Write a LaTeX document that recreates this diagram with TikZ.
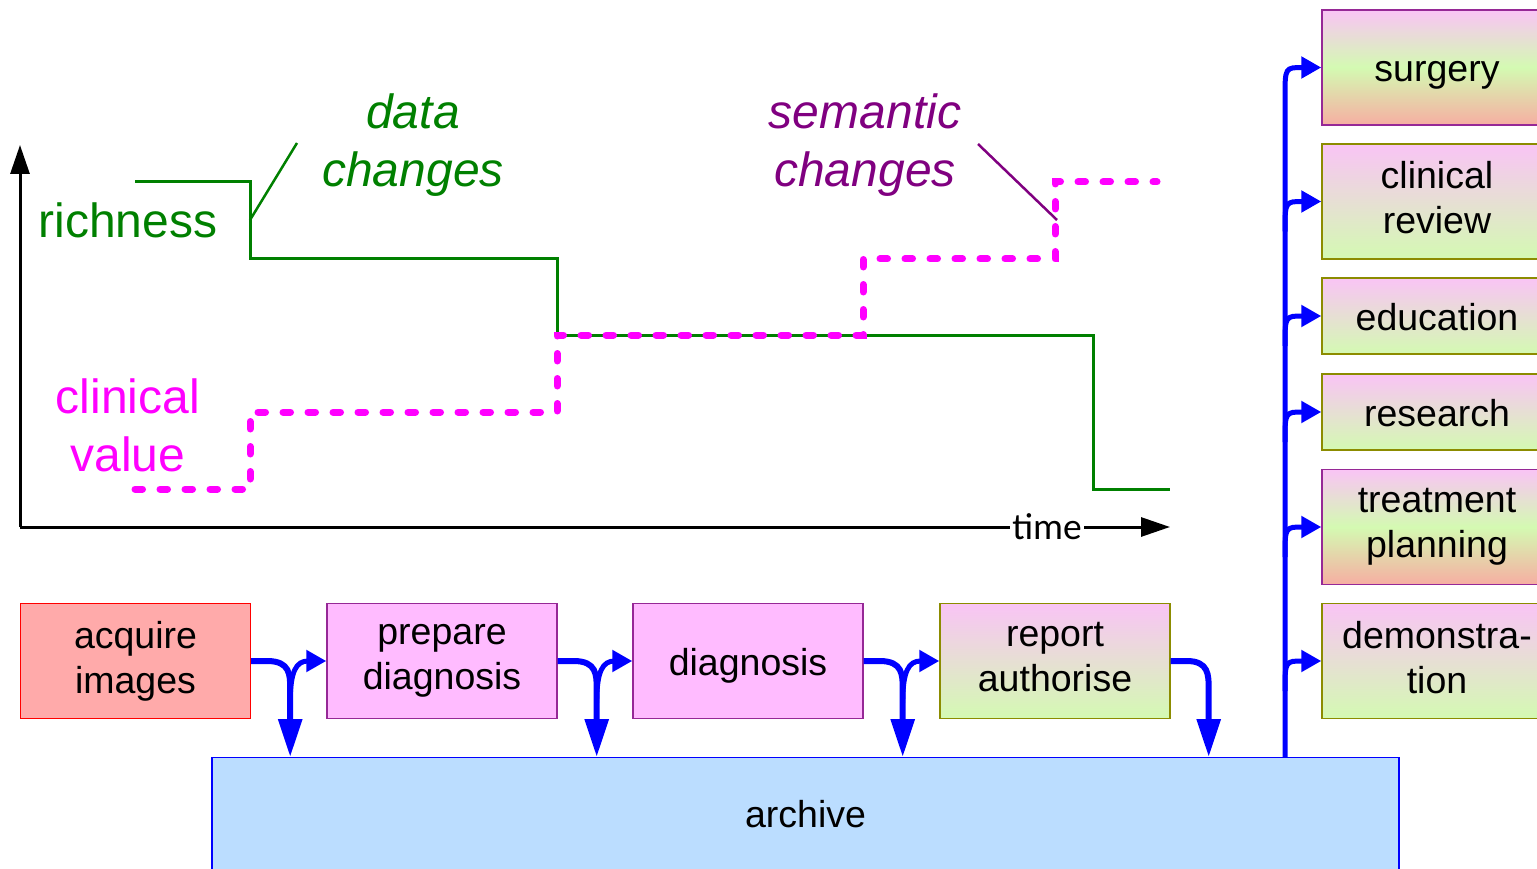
\documentclass[tikz,border=0pt]{standalone}
\usepackage{fontspec}
\setmainfont{Liberation Sans}
\newfontfamily\timefont{Carlito}
\usetikzlibrary{arrows.meta}
\usetikzlibrary{calc}
\definecolor{dgreen}{RGB}{0,128,0}
\definecolor{dpurple}{RGB}{128,0,128}
\definecolor{vmagenta}{RGB}{255,0,255}
\definecolor{boxpink}{RGB}{249,196,245}
\definecolor{boxgreen}{RGB}{212,250,178}
\definecolor{boxsalmon}{RGB}{246,174,162}
\definecolor{boxolive}{RGB}{140,140,0}
\definecolor{boxpurple}{RGB}{150,40,150}
\definecolor{acqfill}{RGB}{255,170,170}
\definecolor{prepfill}{RGB}{255,187,255}
\definecolor{archfill}{RGB}{187,221,255}
\newcommand{\stagefont}{\fontsize{37.5}{45}\selectfont}
\newcommand{\curvefont}{\fontsize{48}{58}\selectfont}
\newcommand{\boxstrut}{\rule[-8pt]{0pt}{44pt}}
\tikzset{
  stage/.style={draw, line width=1.4pt, minimum width=230pt, minimum height=115pt,
    align=center, font=\stagefont, inner sep=0pt,
    execute at begin node=\boxstrut, execute at end node=\boxstrut},
  usebox/.style={stage, draw=boxolive, top color=boxpink, bottom color=boxgreen},
  hotbox/.style={stage, draw=boxpurple, top color=boxpink, bottom color=boxsalmon,
    middle color=boxgreen},
  flow/.style={draw=blue, line width=5pt, -{Triangle[length=20pt,width=21pt]}},
  store/.style={draw=blue, line width=6pt, -{Triangle[length=38pt,width=23pt]}},
  axisline/.style={line width=3pt, -{Triangle[length=29pt,width=19pt]}},
  richline/.style={dgreen, line width=3pt},
  valueline/.style={vmagenta, line width=7pt, line cap=round, dash pattern=on 7.5pt off 17.5pt},
  curvetext/.style={font=\curvefont, align=center, inner sep=0pt},
}
\begin{document}
\begin{tikzpicture}[x=1pt,y=-1pt]
\useasboundingbox (0,0) rectangle (1537,869);
\clip (0,0) rectangle (1537,869);
%axes
\coordinate (origin) at (20,527);
\coordinate (ytop) at (20,145);
\coordinate (xend) at (1170,527);
\draw[axisline] (origin) -- (ytop);
\draw[axisline] (origin) -- (xend);
\node[fill=white, inner xsep=2pt, inner ysep=0pt, font=\timefont\fontsize{37.5}{45}\selectfont] (time) at (1047,527) {time};
%curves
\draw[richline] (135,182) -- (250,182) -- (250,259) -- (557,259) -- (557,335)
  -- (1093,335) -- (1093,489) -- (1170,489);
\draw[valueline] (135,489) -- (250,489) -- (250,412) -- (557,412) -- (557,335)
  -- (863,335) -- (863,259) -- (1055,259) -- (1055,182) -- (1157,182);
%labels
\node[curvetext, text=dgreen] (rich) at (128,220) {richness};
\node[curvetext, text=vmagenta] (value) at (128,425) {clinical\\value};
\node[curvetext, text=dgreen, font=\curvefont\itshape] (datach) at (413,145) {data\\changes};
\node[curvetext, text=dpurple, font=\curvefont\itshape] (semch) at (865,145) {semantic\\changes};
\coordinate (datatip) at (250,220);
\coordinate (datafoot) at (297,143);
\coordinate (semtip) at (1057,220);
\coordinate (semfoot) at (978,144);
\draw[dgreen, line width=2.5pt] (datatip) -- (datafoot);
\draw[dpurple, line width=2.5pt] (semtip) -- (semfoot);
%workflow
\node[stage, fill=acqfill, draw=red] (acq) at (135.5,661) {acquire\\images};
\node[stage, fill=prepfill, draw=boxpurple] (prep) at (442,661) {prepare\\diagnosis};
\node[stage, fill=prepfill, draw=boxpurple] (diag) at (748,661) {diagnosis};
\node[usebox] (rep) at (1055,661) {report\\authorise};
\node[stage, fill=archfill, draw=blue, minimum width=1187pt, minimum height=112pt,
  anchor=north] (archive) at (805.5,757) {archive};
%uses
\node[hotbox] (surg) at (1437,67.5) {surgery};
\node[usebox] (review) at (1437,201.5) {clinical\\review};
\node[usebox, minimum height=76pt] (edu) at (1437,316) {education};
\node[usebox, minimum height=76pt] (res) at (1437,412) {research};
\node[hotbox] (treat) at (1437,527) {treatment\\planning};
\node[usebox] (demo) at (1437,661) {demonstra-\\tion};
%arrows
\foreach \a/\b in {acq/prep, prep/diag, diag/rep} {
  \coordinate (j) at ($(\a.east)+(39,0)$);
  \draw[store] (\a.east) -- ++(16,0) .. controls +(23,0) and +(0,-14) .. ++(23,28)
    -- (j |- archive.north);
  \draw[flow] ($(j)+(0,42)$) .. controls +(0,-32) and +(-12,0) .. ($(j)+(18,0)$) -- (\b.west);
}
\coordinate (j) at ($(rep.east)+(38,0)$);
\draw[store] (rep.east) -- ++(16,0) .. controls +(22,0) and +(0,-14) .. ++(22,28)
  -- (j |- archive.north);
\coordinate (bus) at (1285,0);
\draw[flow] (bus |- archive.north) -- ($(bus |- surg.west)+(0,30)$)
  .. controls (bus |- surg.west) .. ($(bus |- surg.west)+(18,0)$) -- (surg.west);
\foreach \u in {review, edu, res, treat, demo}
  \draw[flow] ($(bus |- \u.west)+(0,30)$) .. controls (bus |- \u.west)
    .. ($(bus |- \u.west)+(18,0)$) -- (\u.west);
\end{tikzpicture}
\end{document}
